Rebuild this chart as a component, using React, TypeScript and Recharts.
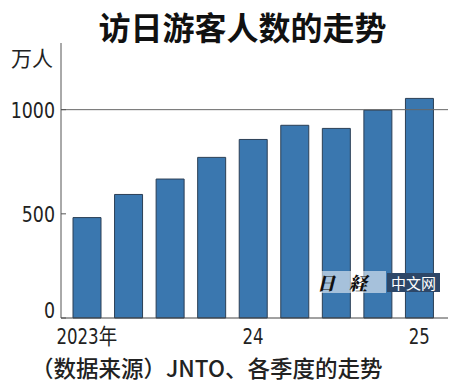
import React from 'react';
import { BarChart, Bar, XAxis, YAxis, ReferenceLine } from 'recharts';

const quarters = ['2023Q1', '2023Q2', '2023Q3', '2023Q4', '2024Q1', '2024Q2', '2024Q3', '2024Q4', '2025Q1'];
const visitors = [482, 593, 667, 771, 857, 925, 910, 998, 1054];
const quarterLabels = ['2023年', '', '', '', '24', '', '', '', '25'];
const yTicks = [0, 500, 1000];

const NARROW = '"Liberation Sans Narrow", "DejaVu Sans Condensed", "Noto Sans CJK SC", sans-serif';
const CJK = '"Noto Sans CJK SC", "Noto Sans", sans-serif';

const data = quarters.map((q, i) => ({ quarter: q, value: visitors[i] }));

// y labels end at x=55, axis sits at x=61
const YTick = (props: any) => {
    const { y, payload } = props;
    const v = payload.value;
    const ty = v === 0 ? y : y + 8;
    return (
        <g>
            <line x1={61} x2={66} y1={y} y2={y} stroke="#555" strokeWidth={1} />
            <text transform={`translate(55,${ty}) scale(0.88,1)`} textAnchor="end" fontSize={22} fontFamily={NARROW} fill="#222">
                {v}
            </text>
        </g>
    );
};

const XTick = (props: any) => {
    const { x, y, index } = props;
    const label = quarterLabels[index];
    if (!label) return null;
    return (
        <text transform={`translate(${x},${y + 26}) scale(0.84,1)`} textAnchor="middle" fontSize={22} fontFamily={NARROW} fill="#222">
            {label}
        </text>
    );
};

const App: React.FC = () => {
    return (
        <div style={{ position: 'absolute', left: 0, top: 0, width: 450, height: 390, background: '#fff' }}>
            <div style={{ position: 'absolute', left: 0, top: 7, width: 485, textAlign: 'center', fontFamily: CJK, fontWeight: 700, fontSize: 32, lineHeight: '38px', color: '#111' }}>
                访日游客人数的走势
            </div>
            <div style={{ position: 'absolute', left: 11, top: 43, fontFamily: CJK, fontSize: 21, lineHeight: '28px', color: '#222' }}>
                万人
            </div>
            <BarChart width={450} height={390} data={data} margin={{ top: 43, right: 2, bottom: 42, left: 0 }}>
                <YAxis
                    type="number"
                    domain={[0, 1320]}
                    ticks={yTicks}
                    width={61}
                    tickSize={0}
                    tickMargin={6}
                    tickLine={false}
                    axisLine={{ stroke: '#555' }}
                    tick={<YTick />}
                />
                <XAxis
                    dataKey="quarter"
                    height={30}
                    interval={0}
                    padding={{ left: 5, right: 8 }}
                    tickLine={false}
                    tickSize={0}
                    tickMargin={0}
                    axisLine={{ stroke: '#444' }}
                    tick={<XTick />}
                />
                <ReferenceLine y={1000} stroke="#666" strokeWidth={1} />
                <Bar dataKey="value" barSize={28} fill="#3a77af" stroke="#2b3f55" strokeWidth={1} isAnimationActive={false} />
            </BarChart>
            <div style={{ position: 'absolute', left: 312, top: 271, width: 74, textAlign: 'center', fontFamily: '"Noto Serif CJK JP", ' + CJK, fontWeight: 900, fontSize: 18, lineHeight: '22px', color: '#111', fontStyle: 'italic', letterSpacing: 14, background: 'rgba(255,255,255,0.55)' }}>
                日経
            </div>
            <div style={{ position: 'absolute', left: 387, top: 273, width: 53, height: 19, textAlign: 'center', fontFamily: CJK, fontSize: 15, lineHeight: '19px', color: '#fff', background: '#2d4768' }}>
                中文网
            </div>
            <div style={{ position: 'absolute', left: 31, top: 352, fontFamily: CJK, fontWeight: 500, fontSize: 22.5, lineHeight: '30px', color: '#222', whiteSpace: 'nowrap' }}>
                （数据来源）JNTO、各季度的走势
            </div>
        </div>
    );
};

export default App;
